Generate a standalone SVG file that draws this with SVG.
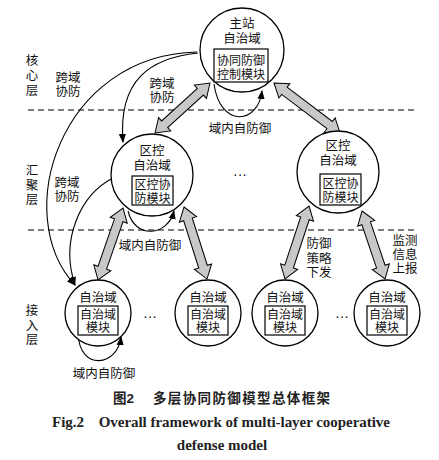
<svg xmlns="http://www.w3.org/2000/svg" width="439" height="460" viewBox="0 0 439 460">
<style>
.c{fill:#fff;stroke:#000;stroke-width:1.3}
.b{fill:#fff;stroke:#000;stroke-width:1.2}
.t{font-family:"Liberation Sans","Noto Sans CJK SC",sans-serif;font-size:12.5px;fill:#111;text-anchor:middle}
.s{font-family:"Liberation Sans","Noto Sans CJK SC",sans-serif;font-size:12px;fill:#111;text-anchor:middle}
.dt{font-family:"Liberation Sans",sans-serif;font-size:14px;fill:#111;text-anchor:middle}
.d{stroke:#000;stroke-width:1.2;stroke-dasharray:6,4;fill:none}
.ln{fill:none;stroke:#000;stroke-width:1.1}
.ba{fill:#c8c8c8;stroke:#000;stroke-width:1}
.cap{font-family:"Liberation Sans","Noto Sans CJK SC",sans-serif;font-size:13.5px;font-weight:bold;fill:#222}
.en{font-family:"Liberation Serif",serif;font-size:15px;font-weight:bold;fill:#222}
</style>
<defs>
<marker id="ah" viewBox="0 0 10 10" refX="9" refY="5" markerWidth="9" markerHeight="9" markerUnits="userSpaceOnUse" orient="auto">
<path d="M0,1 L10,5 L0,9 Z" fill="#000"/>
</marker>
</defs>
<rect width="439" height="460" fill="#fff"/>
<g id="layers">
<line class="d" x1="28" y1="110" x2="418" y2="110"/>
<line class="d" x1="28" y1="230" x2="418" y2="230"/>
<text class="t" x="32" y="65"><tspan x="32">核</tspan><tspan x="32" dy="15">心</tspan><tspan x="32" dy="15">层</tspan></text>
<text class="t" x="32" y="175"><tspan x="32">汇</tspan><tspan x="32" dy="14.5">聚</tspan><tspan x="32" dy="14.5">层</tspan></text>
<text class="t" x="32" y="315"><tspan x="32">接</tspan><tspan x="32" dy="14.5">入</tspan><tspan x="32" dy="14.5">层</tspan></text>
</g>
<g id="connectors">
<path class="ln" d="M197,52 C60,55 10,215 75,285" marker-end="url(#ah)"/>
<path class="ln" d="M113,178 C80,195 60,240 75,285" marker-end="url(#ah)"/>
<path class="ln" d="M198,53 C150,58 118,80 123,142" marker-end="url(#ah)"/>
<path class="ln" d="M214,84 C220,128 258,125 262,91" marker-end="url(#ah)"/>
<path class="ln" d="M128,211 C135,240 168,236 174,211" marker-end="url(#ah)"/>
<path class="ln" d="M78,334 C80,372 118,366 121,337" marker-end="url(#ah)"/>
<g transform="translate(210,83) rotate(137.7)"><polygon class="ba" points="0,0 13,-9 13,-4.5 61.3,-4.5 61.3,-9 74.3,0 61.3,9 61.3,4.5 13,4.5 13,9"/></g>
<g transform="translate(274,83) rotate(37.1)"><polygon class="ba" points="0,0 13,-9 13,-4.5 69.8,-4.5 69.8,-9 82.8,0 69.8,9 69.8,4.5 13,4.5 13,9"/></g>
<g transform="translate(123,208) rotate(109.1)"><polygon class="ba" points="0,0 13,-9 13,-4.5 63.2,-4.5 63.2,-9 76.2,0 63.2,9 63.2,4.5 13,4.5 13,9"/></g>
<g transform="translate(184,207) rotate(72.3)"><polygon class="ba" points="0,0 13,-9 13,-4.5 62.6,-4.5 62.6,-9 75.6,0 62.6,9 62.6,4.5 13,4.5 13,9"/></g>
<g transform="translate(309,206) rotate(108.2)"><polygon class="ba" points="0,0 13,-9 13,-4.5 63.8,-4.5 63.8,-9 76.8,0 63.8,9 63.8,4.5 13,4.5 13,9"/></g>
<g transform="translate(362,211) rotate(71.3)"><polygon class="ba" points="0,0 13,-9 13,-4.5 58.8,-4.5 58.8,-9 71.8,0 58.8,9 58.8,4.5 13,4.5 13,9"/></g>
<text class="t" x="68" y="82"><tspan x="68">跨域</tspan><tspan x="68" dy="14">协防</tspan></text>
<text class="t" x="162" y="88"><tspan x="162">跨域</tspan><tspan x="162" dy="14">协防</tspan></text>
<text class="t" x="240" y="133">域内自防御</text>
<text class="t" x="67" y="187"><tspan x="67">跨域</tspan><tspan x="67" dy="14">协防</tspan></text>
<text class="t" x="150" y="250">域内自防御</text>
<text class="t" x="319" y="248"><tspan x="319">防御</tspan><tspan x="319" dy="14.5">策略</tspan><tspan x="319" dy="14.5">下发</tspan></text>
<text class="t" x="405" y="245"><tspan x="405">监测</tspan><tspan x="405" dy="14">信息</tspan><tspan x="405" dy="14">上报</tspan></text>
<text class="t" x="104" y="378">域内自防御</text>
</g>
<g id="master">
<circle class="c" cx="242" cy="50" r="42"/>
<text class="t" x="242" y="28"><tspan x="242">主站</tspan><tspan x="242" dy="15">自治域</tspan></text>
<rect class="b" x="214" y="49" width="54" height="33"/>
<text class="s" x="241" y="64.5"><tspan x="241">协同防御</tspan><tspan x="241" dy="14">控制模块</tspan></text>
</g>
<g id="region1">
<circle class="c" cx="152" cy="175" r="41"/>
<text class="t" x="152" y="155"><tspan x="152">区控</tspan><tspan x="152" dy="15">自治域</tspan></text>
<rect class="b" x="132" y="176" width="41" height="29"/>
<text class="s" x="152.5" y="189"><tspan x="152.5">区控协</tspan><tspan x="152.5" dy="13.5">防模块</tspan></text>
</g>
<g id="region2">
<circle class="c" cx="338" cy="172" r="41"/>
<text class="t" x="338" y="150"><tspan x="338">区控</tspan><tspan x="338" dy="15">自治域</tspan></text>
<rect class="b" x="320" y="174" width="41" height="31"/>
<text class="s" x="340.5" y="188"><tspan x="340.5">区控协</tspan><tspan x="340.5" dy="14">防模块</tspan></text>
</g>
<g id="dots">
<text class="dt" x="240" y="179">···</text>
<text class="dt" x="150" y="321">···</text>
<text class="dt" x="342" y="321">···</text>
</g>
<g id="leaf1">
<circle class="c" cx="98" cy="313" r="33"/>
<text class="t" x="98" y="302">自治域</text>
<rect class="b" x="78" y="306" width="40" height="29"/>
<text class="s" x="98" y="319"><tspan x="98">自治域</tspan><tspan x="98" dy="13">模块</tspan></text>
</g>
<g id="leaf2">
<circle class="c" cx="208" cy="313" r="33"/>
<text class="t" x="208" y="302">自治域</text>
<rect class="b" x="188" y="306" width="40" height="29"/>
<text class="s" x="208" y="319"><tspan x="208">自治域</tspan><tspan x="208" dy="13">模块</tspan></text>
</g>
<g id="leaf3">
<circle class="c" cx="285" cy="313" r="33"/>
<text class="t" x="285" y="302">自治域</text>
<rect class="b" x="265" y="306" width="40" height="29"/>
<text class="s" x="285" y="319"><tspan x="285">自治域</tspan><tspan x="285" dy="13">模块</tspan></text>
</g>
<g id="leaf4">
<circle class="c" cx="387" cy="313" r="33"/>
<text class="t" x="387" y="302">自治域</text>
<rect class="b" x="367" y="306" width="40" height="29"/>
<text class="s" x="387" y="319"><tspan x="387">自治域</tspan><tspan x="387" dy="13">模块</tspan></text>
</g>
<g id="caption">
<text class="cap" x="113" y="403">图2</text>
<text class="cap" x="153" y="403" textLength="177" lengthAdjust="spacing">多层协同防御模型总体框架</text>
<text class="en" x="52" y="427" xml:space="preserve" textLength="338" lengthAdjust="spacing">Fig.2    Overall framework of multi-layer cooperative</text>
<text class="en" x="222" y="450" text-anchor="middle">defense model</text>
</g>
</svg>
